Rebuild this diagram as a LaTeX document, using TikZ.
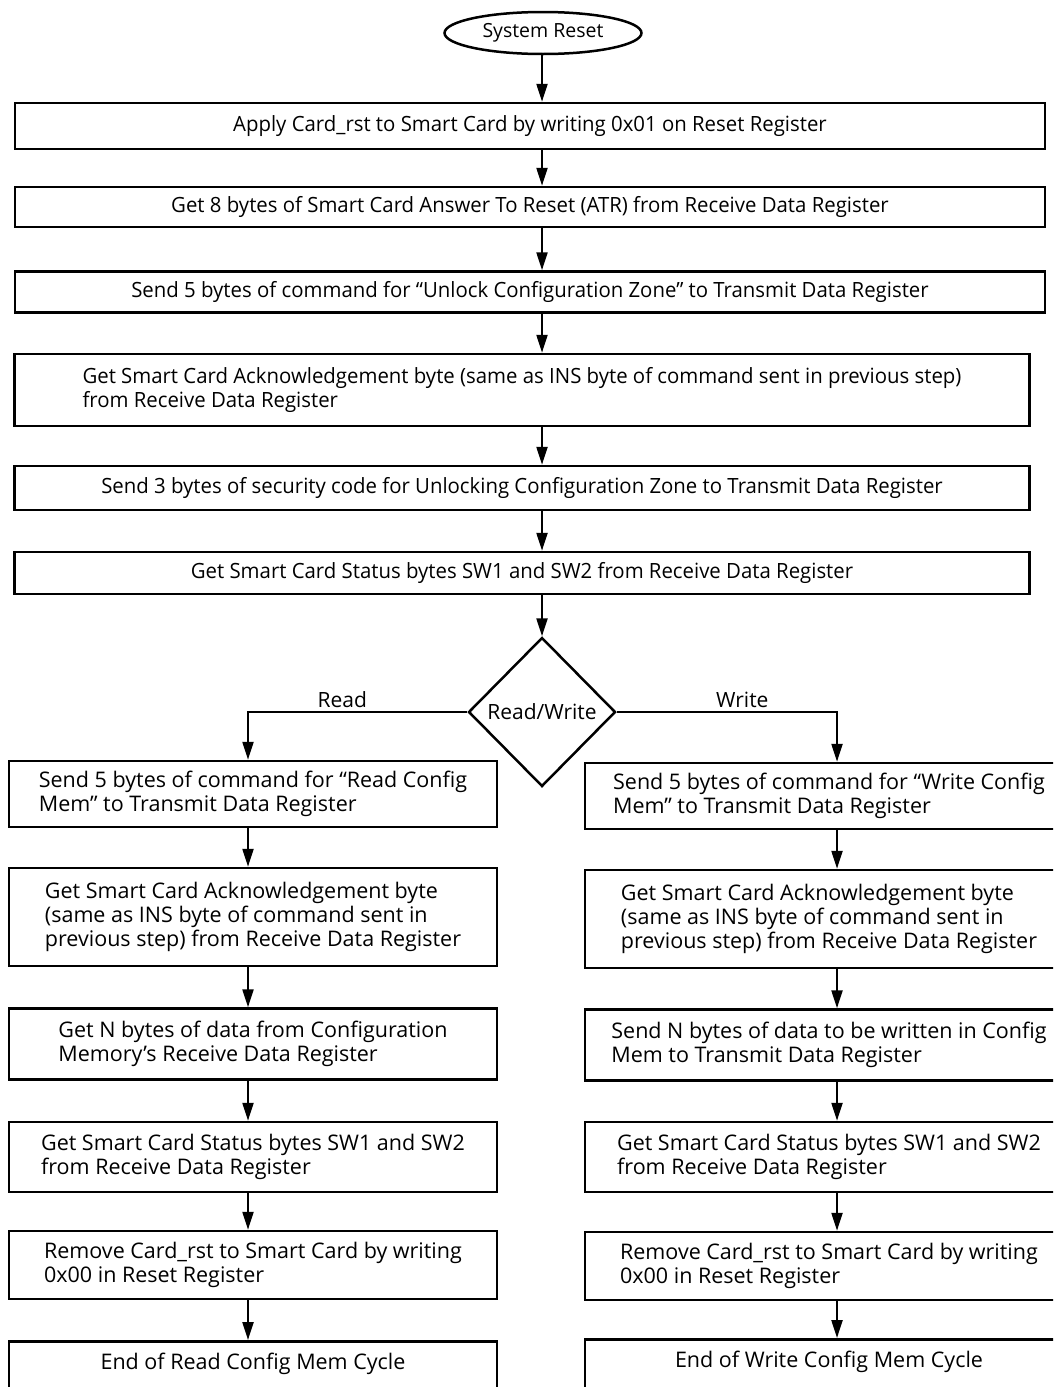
\documentclass[tikz,border=0pt]{standalone}
\usepackage{fontspec}
\setmainfont{Open Sans}
\newfontfamily\narrowfont[FakeStretch=0.97]{Open Sans}
\usetikzlibrary{shapes.geometric,arrows.meta}

\tikzset{
  stepbox/.style={draw, line width=2.5pt, inner sep=0pt, align=left,
    font=\narrowfont\fontsize{21}{24}\selectfont},
  sidebox/.style={draw, line width=2.5pt, inner sep=0pt, minimum width=488pt, align=left,
    font=\fontsize{21.5}{24}\selectfont},
  endbox/.style={sidebox, anchor=north, inner ysep=14pt, text height=14pt, text depth=40pt},
  arr/.style={line width=2.2pt, -{Triangle[length=18pt,width=11pt]}},
}

\begin{document}
\begin{tikzpicture}[x=1pt, y=-1pt]

        \clip (0,0) rectangle (1053,1387);  % page size of the reference

        % Columns for the arrows
        \coordinate (mcol) at (542,712);
        \coordinate (lcol) at (248,712);
        \coordinate (rcol) at (837,712);

        % Common part
        \node[draw, ellipse, line width=2.5pt, minimum width=197pt, minimum height=42pt, inner sep=0pt,
              font=\fontsize{19.5}{23}\selectfont] (sys) at (543,33) {System Reset};

        \node[stepbox, minimum width=1030pt, minimum height=46pt] (b1) at (530,126) {Apply Card\_rst to Smart Card by writing 0x01 on Reset Register};
        \node[stepbox, minimum width=1030pt, minimum height=40pt] (b2) at (530,207) {Get 8 bytes of Smart Card Answer To Reset (ATR) from Receive Data Register};
        \node[stepbox, minimum width=1030pt, minimum height=41pt] (b3) at (530,292) {Send 5 bytes of command for “Unlock Configuration Zone” to Transmit Data Register};
        \node[stepbox, minimum width=1015pt, minimum height=72pt] (b4) at (522,390) {Get Smart Card Acknowledgement byte (same as INS byte of command sent in previous step)\\from Receive Data Register};
        \node[stepbox, minimum width=1015pt, minimum height=44pt] (b5) at (522,488) {Send 3 bytes of security code for Unlocking Configuration Zone to Transmit Data Register};
        \node[stepbox, minimum width=1015pt, minimum height=42pt] (b6) at (522,573) {Get Smart Card Status bytes SW1 and SW2 from Receive Data Register};

        \node[draw, diamond, line width=2.5pt, minimum width=147pt, minimum height=149pt, inner sep=0pt,
              font=\fontsize{21}{24}\selectfont] (rw) at (542,712) {Read/Write};

        % Read branch
        \node[sidebox, minimum height=66pt] (l1) at (253,794) {Send 5 bytes of command for “Read Config\\Mem” to Transmit Data Register};
        \node[sidebox, minimum height=98pt] (l2) at (253,917) {Get Smart Card Acknowledgement byte\\(same as INS byte of command sent in\\previous step) from Receive Data Register};
        \node[sidebox, minimum height=71pt] (l3) at (253,1044) {Get N bytes of data from Configuration\\Memory’s Receive Data Register};
        \node[sidebox, minimum height=70pt] (l4) at (253,1157) {Get Smart Card Status bytes SW1 and SW2\\from Receive Data Register};
        \node[sidebox, minimum height=68pt] (l5) at (253,1265) {Remove Card\_rst to Smart Card by writing\\0x00 in Reset Register};
        \node[endbox] (l6) at (253,1340) {End of Read Config Mem Cycle};

        % Write branch
        \node[sidebox, minimum height=66pt] (r1) at (829,796) {Send 5 bytes of command for “Write Config\\Mem” to Transmit Data Register};
        \node[sidebox, minimum height=98pt] (r2) at (829,919) {Get Smart Card Acknowledgement byte\\(same as INS byte of command sent in\\previous step) from Receive Data Register};
        \node[sidebox, minimum height=71pt] (r3) at (829,1045) {Send N bytes of data to be written in Config\\Mem to Transmit Data Register};
        \node[sidebox, minimum height=70pt] (r4) at (829,1157) {Get Smart Card Status bytes SW1 and SW2\\from Receive Data Register};
        \node[sidebox, minimum height=68pt] (r5) at (829,1266) {Remove Card\_rst to Smart Card by writing\\0x00 in Reset Register};
        \node[endbox] (r6) at (829,1338) {End of Write Config Mem Cycle};

        % Arrows in the common part
        \draw[arr] (sys.south -| mcol) -- (b1.north -| mcol);
        \draw[arr] (b1.south -| mcol) -- (b2.north -| mcol);
        \draw[arr] (b2.south -| mcol) -- (b3.north -| mcol);
        \draw[arr] (b3.south -| mcol) -- (b4.north -| mcol);
        \draw[arr] (b4.south -| mcol) -- (b5.north -| mcol);
        \draw[arr] (b5.south -| mcol) -- (b6.north -| mcol);
        \draw[arr] (b6.south -| mcol) -- (rw.north);

        % Branches
        \draw[arr] (rw.west) -- node[above, font=\fontsize{21}{24}\selectfont, pos=0.57] (rlab) {Read} (lcol) -- (l1.north -| lcol);
        \draw[arr] (rw.east) -- node[above, font=\fontsize{21}{24}\selectfont, pos=0.57] (wlab) {Write} (rcol) -- (r1.north -| rcol);

        \draw[arr] (l1.south -| lcol) -- (l2.north -| lcol);
        \draw[arr] (l2.south -| lcol) -- (l3.north -| lcol);
        \draw[arr] (l3.south -| lcol) -- (l4.north -| lcol);
        \draw[arr] (l4.south -| lcol) -- (l5.north -| lcol);
        \draw[arr] (l5.south -| lcol) -- (l6.north -| lcol);

        \draw[arr] (r1.south -| rcol) -- (r2.north -| rcol);
        \draw[arr] (r2.south -| rcol) -- (r3.north -| rcol);
        \draw[arr] (r3.south -| rcol) -- (r4.north -| rcol);
        \draw[arr] (r4.south -| rcol) -- (r5.north -| rcol);
        \draw[arr] (r5.south -| rcol) -- (r6.north -| rcol);

\end{tikzpicture}
\end{document}
